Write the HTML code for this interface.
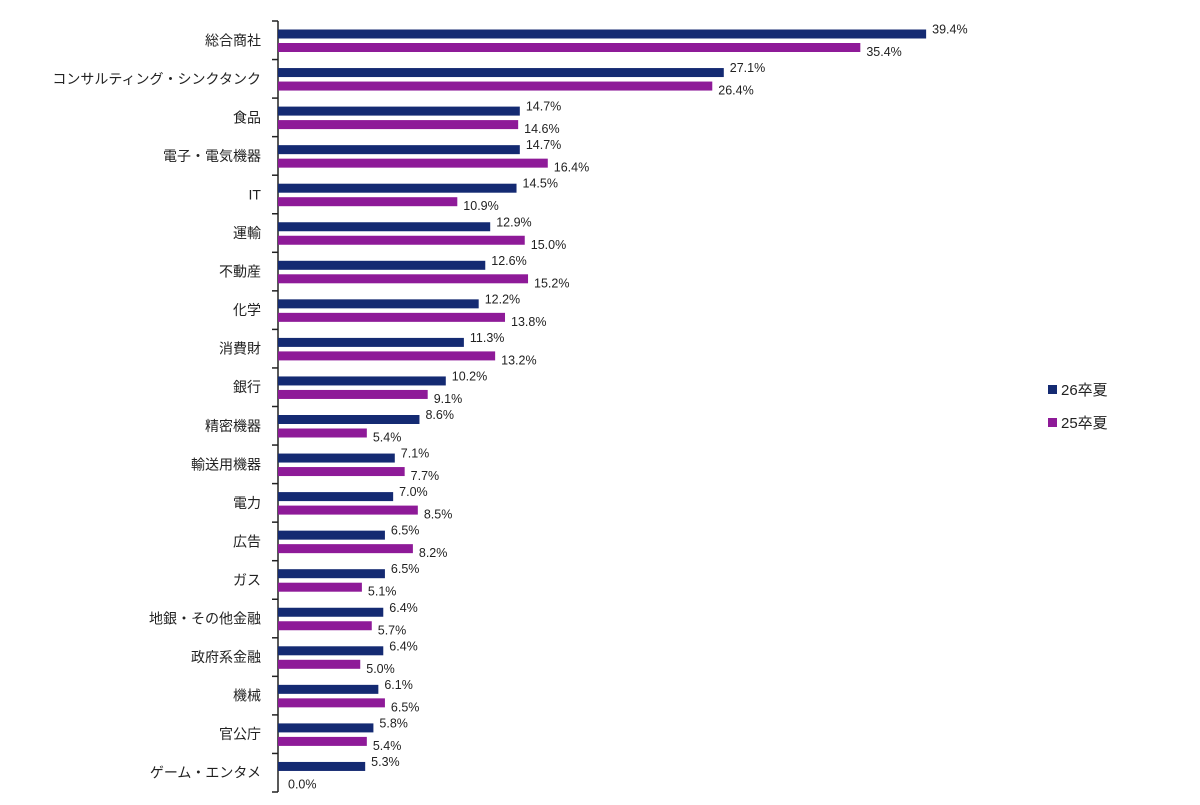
<!DOCTYPE html>
<html><head><meta charset="utf-8"><style>
body{margin:0;background:#fff;}
svg text{font-family:"Liberation Sans","Noto Sans CJK JP",sans-serif;fill:#222;}
</style></head><body>
<svg id="chart" width="1200" height="800" xmlns="http://www.w3.org/2000/svg"></svg>
<script>
const categories=["総合商社","コンサルティング・シンクタンク","食品","電子・電気機器","IT","運輸","不動産","化学","消費財","銀行","精密機器","輸送用機器","電力","広告","ガス","地銀・その他金融","政府系金融","機械","官公庁","ゲーム・エンタメ"];
const series26=[39.4,27.1,14.7,14.7,14.5,12.9,12.6,12.2,11.3,10.2,8.6,7.1,7.0,6.5,6.5,6.4,6.4,6.1,5.8,5.3];
const series25=[35.4,26.4,14.6,16.4,10.9,15.0,15.2,13.8,13.2,9.1,5.4,7.7,8.5,8.2,5.1,5.7,5.0,6.5,5.4,0.0];
const seriesNames=["26卒夏","25卒夏"];
const svg=document.getElementById('chart');
const NS="http://www.w3.org/2000/svg";
const x0=278,pxPer=16.45,top0=21,band=(792-21)/categories.length;
const xs=v=>x0+v*pxPer;
const colors=["#142a72","#8e1a98"];
function mk(tag,attrs){const e=document.createElementNS(NS,tag);for(const k in attrs)e.setAttribute(k,attrs[k]);svg.appendChild(e);return e;}
const ax=mk('line',{x1:x0,y1:top0,x2:x0,y2:792,stroke:'#222','stroke-width':1.5});


for(let i=0;i<=categories.length;i++){
  const y=top0+i*band;
  const t=mk('line',{x1:x0-6,y1:y,x2:x0,y2:y,stroke:'#222','stroke-width':1.5});
  
  
}
categories.forEach((c,i)=>{
  const yt=top0+i*band;
  const lab=mk('text',{x:261,y:yt+band/2+5,'text-anchor':'end','font-size':14});
  lab.textContent=c;
  
  
  [series26,series25].forEach((s,k)=>{
    const by=yt+(k===0?8.5:22);
    const r=mk('rect',{x:x0,y:by,width:Math.max(0,xs(s[i])-x0),height:9,fill:colors[k]});
    
    
    const vt=mk('text',{x:xs(s[i])+(s[i]===0?10:6),y:by+(k===0?4:13),'font-size':12.5});
    vt.textContent=s[i].toFixed(1)+'%';
    
    
  });
});
seriesNames.forEach((n,k)=>{
  const y=390+k*33;
  const sq=mk('rect',{x:1048,y:y-5,width:9,height:9,fill:colors[k]});
  
  
  const t=mk('text',{x:1061,y:y+5,'font-size':15});
  t.textContent=n;
  
  
});
</script>
</body></html>
